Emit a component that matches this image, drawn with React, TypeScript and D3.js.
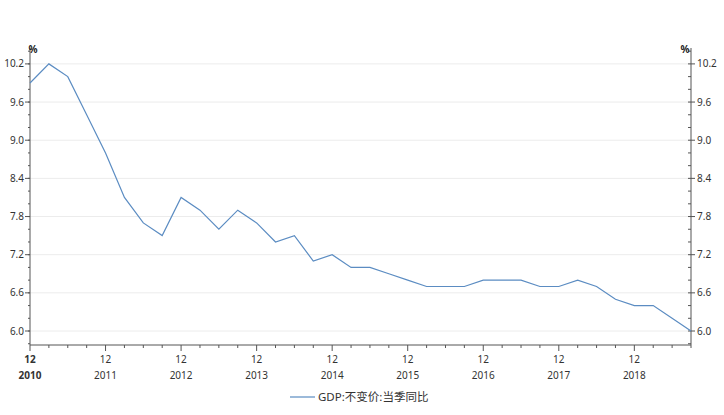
import React from "react";
import * as d3 from "d3";

const quarters: string[] = [
  "2010-12",
  "2011-03", "2011-06", "2011-09", "2011-12",
  "2012-03", "2012-06", "2012-09", "2012-12",
  "2013-03", "2013-06", "2013-09", "2013-12",
  "2014-03", "2014-06", "2014-09", "2014-12",
  "2015-03", "2015-06", "2015-09", "2015-12",
  "2016-03", "2016-06", "2016-09", "2016-12",
  "2017-03", "2017-06", "2017-09", "2017-12",
  "2018-03", "2018-06", "2018-09", "2018-12",
  "2019-03", "2019-06", "2019-09",
];

const gdpYoY: number[] = [
  9.9,
  10.2, 10.0, 9.4, 8.8,
  8.1, 7.7, 7.5, 8.1,
  7.9, 7.6, 7.9, 7.7,
  7.4, 7.5, 7.1, 7.2,
  7.0, 7.0, 6.9, 6.8,
  6.7, 6.7, 6.7, 6.8,
  6.8, 6.8, 6.7, 6.7,
  6.8, 6.7, 6.5, 6.4,
  6.4, 6.2, 6.0,
];

const yTickLabels: number[] = [6.0, 6.6, 7.2, 7.8, 8.4, 9.0, 9.6, 10.2];
const seriesName = "GDP:不变价:当季同比";
const unitLabel = "%";

const W = 724;
const H = 415;
const left = 30;
const right = 691;
const top = 48;
const bottom = 345;

export default function App() {
  const x = d3.scaleLinear().domain([0, quarters.length - 1]).range([left, right]);
  const y = d3.scaleLinear().domain([5.78, 10.45]).range([bottom, top]);

  const line = d3
    .line<number>()
    .x((_, i) => x(i))
    .y((d) => y(d));

  const minorY = d3.range(5.8, 10.41, 0.2).map((v) => Math.round(v * 10) / 10);
  const font = "'Noto Sans', 'Noto Sans CJK SC', sans-serif";
  const textColor = "#333";
  const axisColor = "#555";

  return (
    <svg
      width={W}
      height={H}
      style={{ position: "absolute", left: 0, top: 0, background: "#fff" }}
      fontFamily={font}
    >
      {/* gridlines */}
      {yTickLabels.map((v) => (
        <line key={"g" + v} x1={left} x2={right} y1={y(v)} y2={y(v)} stroke="#ececec" strokeWidth={1} />
      ))}

      {/* left axis */}
      <line x1={left} x2={left} y1={top} y2={bottom} stroke={axisColor} />
      {minorY.map((v) => (
        <line key={"lm" + v} x1={left - 2} x2={left} y1={y(v)} y2={y(v)} stroke={axisColor} />
      ))}
      {yTickLabels.map((v) => (
        <g key={"l" + v}>
          <line x1={left - 5} x2={left} y1={y(v)} y2={y(v)} stroke={axisColor} />
          <text x={left - 6} y={y(v)} dy="0.35em" textAnchor="end" fontSize={10} fill={textColor}>
            {v.toFixed(1)}
          </text>
        </g>
      ))}
      <text x={left + 3} y={top + 5} fontSize={10} fontWeight="bold" fill="#222" textAnchor="middle">
        {unitLabel}
      </text>

      {/* right axis */}
      <line x1={right} x2={right} y1={top} y2={bottom} stroke={axisColor} />
      {minorY.map((v) => (
        <line key={"rm" + v} x1={right - 3} x2={right} y1={y(v)} y2={y(v)} stroke={axisColor} />
      ))}
      {yTickLabels.map((v) => (
        <g key={"r" + v}>
          <line x1={right} x2={right + 4} y1={y(v)} y2={y(v)} stroke={axisColor} />
          <text x={right + 6} y={y(v)} dy="0.35em" textAnchor="start" fontSize={10} fill={textColor}>
            {v.toFixed(1)}
          </text>
        </g>
      ))}
      <text x={right - 6} y={top + 5} fontSize={10} fontWeight="bold" fill="#222" textAnchor="middle">
        {unitLabel}
      </text>

      {/* bottom axis */}
      <line x1={left} x2={right} y1={bottom} y2={bottom} stroke={axisColor} />
      {quarters.map((q, i) => {
        const [yr, mo] = q.split("-");
        const major = mo === "12";
        return (
          <g key={"x" + q}>
            <line
              x1={x(i)}
              x2={x(i)}
              y1={bottom}
              y2={bottom + (major ? 6 : 3)}
              stroke={axisColor}
            />
            {major && (
              <>
                <text
                  x={x(i)}
                  y={bottom + 18}
                  textAnchor="middle"
                  fontSize={10}
                  fill={textColor}
                  fontWeight={i === 0 ? "bold" : "normal"}
                >
                  {mo}
                </text>
                <text
                  x={x(i)}
                  y={bottom + 34}
                  textAnchor="middle"
                  fontSize={10}
                  fill={textColor}
                  fontWeight={i === 0 ? "bold" : "normal"}
                >
                  {yr}
                </text>
              </>
            )}
          </g>
        );
      })}

      {/* series */}
      <path d={line(gdpYoY) || ""} fill="none" stroke="#5b8cc2" strokeWidth={1.2} />

      {/* legend */}
      <line x1={290} x2={315} y1={397} y2={397} stroke="#5b8cc2" strokeWidth={1.2} />
      <text x={318} y={397} dy="0.35em" fontSize={11.5} fill={textColor}>
        {seriesName}
      </text>
    </svg>
  );
}
